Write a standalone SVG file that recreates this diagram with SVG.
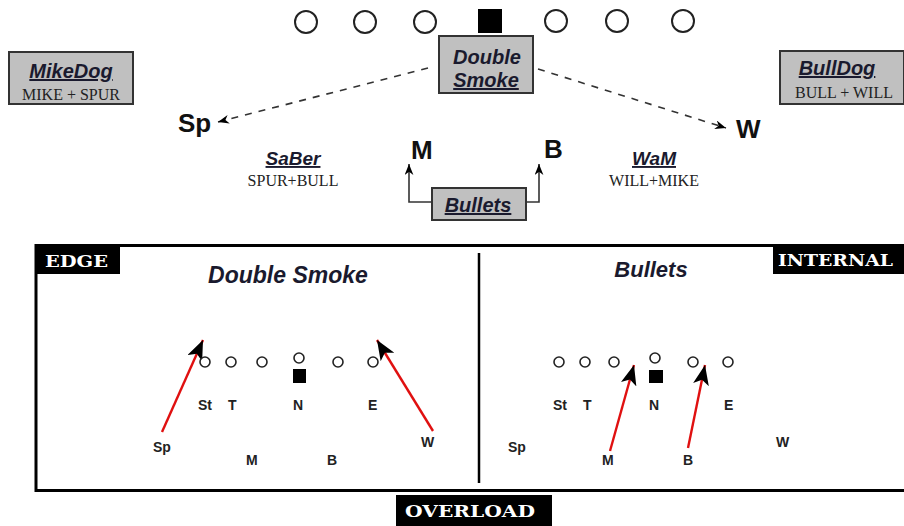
<svg xmlns="http://www.w3.org/2000/svg" width="904" height="526" viewBox="0 0 904 526">
<style>
.box{fill:#c0c0c0;stroke:#333;stroke-width:2}
.bi{font-family:"Liberation Sans",Arial,sans-serif;font-weight:bold;font-style:italic;fill:#1a1a2e;text-decoration:underline}
.ser{font-family:"Liberation Serif","Times New Roman",serif;font-size:16px;fill:#222}
.big{font-family:"Liberation Sans",Arial,sans-serif;font-weight:bold;font-size:26px;fill:#111}
.sm{font-family:"Liberation Sans",Arial,sans-serif;font-weight:bold;font-size:14px;fill:#222}
.tag{font-family:"DejaVu Serif",serif;font-weight:bold;font-size:17px;fill:#fff}
.oc{fill:#fff;stroke:#222;stroke-width:2}
.fc{fill:#fff;stroke:#222;stroke-width:1.6}
.dash{fill:none;stroke:#333;stroke-width:1.6;stroke-dasharray:7 7}
.red{stroke:#e01010;stroke-width:2.4;fill:none}
.conn{fill:none;stroke:#333;stroke-width:1.6}
.title{font-family:"Liberation Sans",Arial,sans-serif;font-weight:bold;font-style:italic;fill:#1a1a2e}
</style>
<defs>
<marker id="big" viewBox="0 0 20 16" refX="20" refY="8" markerWidth="20" markerHeight="16" markerUnits="userSpaceOnUse" orient="auto">
<path d="M0,0 L20,8 L0,16 L5,8 z" fill="#000"/>
</marker>
<marker id="small" viewBox="0 0 20 16" refX="20" refY="8" markerWidth="11" markerHeight="9" markerUnits="userSpaceOnUse" orient="auto">
<path d="M0,0 L20,8 L0,16 L6,8 z" fill="#000"/>
</marker>
</defs>
<rect width="904" height="526" fill="#fff"/>

<g id="offense-top">
<circle class="oc" cx="306" cy="22" r="11"/>
<circle class="oc" cx="365" cy="22" r="11"/>
<circle class="oc" cx="425" cy="22" r="11"/>
<rect x="478" y="9" width="24" height="24" fill="#000"/>
<circle class="oc" cx="556" cy="21" r="11"/>
<circle class="oc" cx="617" cy="21" r="11"/>
<circle class="oc" cx="683" cy="21" r="11"/>
</g>

<g id="connectors">
<path class="dash" d="M428,68 L218,122" marker-end="url(#small)"/>
<path class="dash" d="M538,69 L726,128" marker-end="url(#small)"/>
<path class="conn" d="M433,202 H409 V164" marker-end="url(#small)"/>
<path class="conn" d="M525,202 H539 V164" marker-end="url(#small)"/>
<path class="red" d="M162,432 L203,340" marker-end="url(#big)"/>
<path class="red" d="M433,431 L377,340" marker-end="url(#big)"/>
<path class="red" d="M610,451 L634,365" marker-end="url(#big)"/>
<path class="red" d="M688,448 L705,365" marker-end="url(#big)"/>
</g>

<g id="double-smoke-box">
<rect class="box" x="439" y="36" width="94" height="57"/>
<text class="title" x="487" y="64" font-size="20" text-anchor="middle">Double</text>
<text class="bi" x="486" y="87" font-size="20" text-anchor="middle">Smoke</text>
</g>

<g id="mikedog">
<rect class="box" x="9" y="52" width="124" height="52"/>
<text class="bi" x="71" y="78" font-size="20" text-anchor="middle">MikeDog</text>
<text class="ser" x="71" y="100" text-anchor="middle">MIKE + SPUR</text>
</g>

<g id="bulldog">
<rect class="box" x="780" y="51" width="124" height="53"/>
<text class="bi" x="837" y="75" font-size="20" text-anchor="middle">BullDog</text>
<text class="ser" x="844" y="98" text-anchor="middle">BULL + WILL</text>
</g>

<g id="sp-top"><text class="big" x="178" y="132">Sp</text></g>
<g id="w-top"><text class="big" x="736" y="138" font-size="27">W</text></g>
<g id="m-top"><text class="big" x="411" y="159">M</text></g>
<g id="b-top"><text class="big" x="544" y="158">B</text></g>

<g id="saber">
<text class="bi" x="293" y="165" font-size="19" text-anchor="middle">SaBer</text>
<text class="ser" x="293" y="186" text-anchor="middle">SPUR+BULL</text>
</g>
<g id="wam">
<text class="bi" x="654" y="165" font-size="19" text-anchor="middle">WaM</text>
<text class="ser" x="654" y="186" text-anchor="middle">WILL+MIKE</text>
</g>

<g id="bullets-box">
<rect class="box" x="432" y="188" width="94" height="32"/>
<text class="bi" x="478" y="212" font-size="20" text-anchor="middle">Bullets</text>
</g>

<g id="frame">
<rect x="36" y="245.5" width="872" height="245" fill="none" stroke="#000" stroke-width="3"/>
<line x1="479" y1="253" x2="479" y2="483" stroke="#000" stroke-width="2.5"/>
</g>

<g id="edge-tag">
<rect x="35" y="244" width="85" height="30" fill="#000"/>
<text class="tag" x="45" y="267" textLength="63" lengthAdjust="spacingAndGlyphs">EDGE</text>
</g>
<g id="internal-tag">
<rect x="773" y="247" width="131" height="27" fill="#000"/>
<text class="tag" x="778" y="266" textLength="115" lengthAdjust="spacingAndGlyphs">INTERNAL</text>
</g>
<g id="overload-tag">
<rect x="396" y="495" width="156" height="31" fill="#000"/>
<text class="tag" x="405" y="517" textLength="130" lengthAdjust="spacingAndGlyphs">OVERLOAD</text>
</g>

<g id="double-smoke-diagram">
<text class="title" x="288" y="283" font-size="23" text-anchor="middle">Double Smoke</text>
<circle class="fc" cx="205" cy="362" r="5"/>
<circle class="fc" cx="231" cy="362" r="5"/>
<circle class="fc" cx="262" cy="362" r="5"/>
<circle class="fc" cx="299" cy="358" r="5"/>
<circle class="fc" cx="338" cy="362" r="5"/>
<circle class="fc" cx="373" cy="362" r="5"/>
<rect x="293" y="369" width="13" height="14" fill="#000"/>
<text class="sm" x="198" y="410">St</text>
<text class="sm" x="228" y="410">T</text>
<text class="sm" x="293" y="410">N</text>
<text class="sm" x="368" y="410">E</text>
<text class="sm" x="153" y="452">Sp</text>
<text class="sm" x="246" y="465">M</text>
<text class="sm" x="327" y="465">B</text>
<text class="sm" x="421" y="447">W</text>
</g>

<g id="bullets-diagram">
<text class="title" x="651" y="277" font-size="22" text-anchor="middle">Bullets</text>
<circle class="fc" cx="559" cy="362" r="5"/>
<circle class="fc" cx="585" cy="362" r="5"/>
<circle class="fc" cx="614" cy="362" r="5"/>
<circle class="fc" cx="655" cy="358" r="5"/>
<circle class="fc" cx="693" cy="362" r="5"/>
<circle class="fc" cx="728" cy="362" r="5"/>
<rect x="649" y="370" width="14" height="13" fill="#000"/>
<text class="sm" x="553" y="410">St</text>
<text class="sm" x="583" y="410">T</text>
<text class="sm" x="649" y="410">N</text>
<text class="sm" x="724" y="410">E</text>
<text class="sm" x="508" y="452">Sp</text>
<text class="sm" x="602" y="465">M</text>
<text class="sm" x="683" y="465">B</text>
<text class="sm" x="776" y="447">W</text>
</g>
</svg>
